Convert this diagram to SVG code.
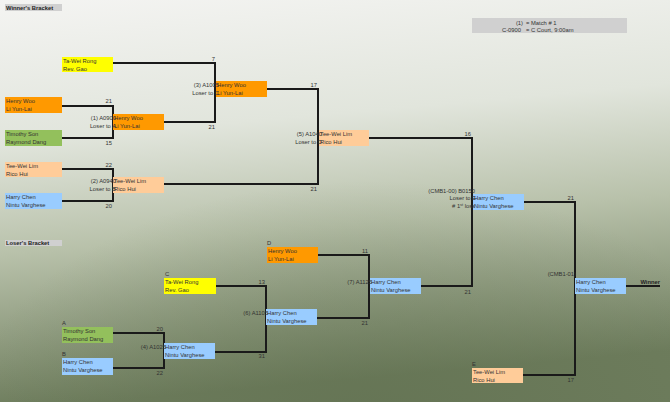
<svg xmlns="http://www.w3.org/2000/svg" width="670" height="402" viewBox="0 0 670 402">
<defs>
<linearGradient id="bg" x1="0" y1="0" x2="0.15" y2="1">
<stop offset="0" stop-color="#f4f4f2"/>
<stop offset="0.35" stop-color="#e1e5dc"/>
<stop offset="0.62" stop-color="#b8c1aa"/>
<stop offset="1" stop-color="#6e7d5d"/>
</linearGradient>
<radialGradient id="shade" cx="0.55" cy="1.05" r="0.6">
<stop offset="0" stop-color="#5e6e4e" stop-opacity="0.55"/>
<stop offset="1" stop-color="#5e6e4e" stop-opacity="0"/>
</radialGradient>
</defs>
<style>
text{font-family:"Liberation Sans",Arial,sans-serif;font-size:5.8px;fill:#333}
.b{font-weight:bold;fill:#222}
.e{text-anchor:end}
.hdr{fill:#d0d0d0}
.yel{fill:#ffff00}.org{fill:#ff9900}.grn{fill:#93c05c}.pch{fill:#ffcc99}.blu{fill:#99ccff}
.c path{fill:none;stroke:#1a1a1a;stroke-width:2}
</style>
<rect width="670" height="402" fill="url(#bg)"/>
<rect width="670" height="402" fill="url(#shade)"/>

<g id="winners-header"><rect class="hdr" x="5" y="4" width="57" height="7"/><text class="b" x="6" y="9.5">Winner's Bracket</text></g>
<g id="losers-header"><rect class="hdr" x="5" y="240" width="57" height="6"/><text class="b" x="6" y="245.2">Loser's Bracket</text></g>
<g id="legend"><rect class="hdr" x="472" y="18" width="155" height="15"/><text class="e" x="523" y="24.5">(1)</text><text x="526" y="24.5">= Match # 1</text><text class="e" x="521" y="31.5">C-0900</text><text x="526" y="31.5">= C Court, 9:00am</text></g>

<g class="c" id="connectors">
<path d="M62,106H113V138H62"/>
<path d="M113,63H215V122H164"/>
<path d="M62,169H113V201H62"/>
<path d="M267,89H318V184H164"/>
<path d="M369,138H472V286H421"/>
<path d="M524,202H575V375H523"/>
<path d="M626,286H660"/>
<path d="M113,333H164V368H113"/>
<path d="M216,286H266V352H215"/>
<path d="M318,255H369V318H317"/>
</g>

<g id="scores">
<text class="e" x="112" y="103">21</text><text class="e" x="112" y="145">15</text>
<text class="e" x="215" y="61">7</text><text class="e" x="215" y="129">21</text>
<text class="e" x="112" y="167">22</text><text class="e" x="112" y="208">20</text>
<text class="e" x="317" y="87">17</text><text class="e" x="317" y="191">21</text>
<text class="e" x="471" y="136">16</text><text class="e" x="471" y="294">21</text>
<text class="e" x="574" y="200">21</text><text class="e" x="574" y="382">17</text>
<text class="b e" x="660" y="284">Winner</text>
<text class="e" x="163" y="331">20</text><text class="e" x="163" y="375">22</text>
<text class="e" x="265" y="284">13</text><text class="e" x="265" y="358">31</text>
<text class="e" x="368" y="253">11</text><text class="e" x="368" y="325">21</text>
</g>

<g id="w1"><rect class="yel" x="62" y="57" width="51" height="15"/><text x="63" y="63">Ta-Wei Rong</text><text x="63" y="70.5">Rev. Gao</text></g>
<g id="w2"><rect class="org" x="5" y="97" width="57" height="16"/><text x="6" y="103">Henry Woo</text><text x="6" y="111">Li Yun-Lai</text></g>
<g id="w3"><rect class="grn" x="5" y="130" width="57" height="16"/><text x="6" y="136">Timothy Son</text><text x="6" y="144">Raymond Dang</text></g>
<g id="w4"><rect class="pch" x="5" y="162" width="57" height="15"/><text x="6" y="168">Tee-Wei Lim</text><text x="6" y="175.5">Rico Hui</text></g>
<g id="w5"><rect class="blu" x="5" y="193" width="57" height="16"/><text x="6" y="199">Harry Chen</text><text x="6" y="207">Nintu Varghese</text></g>

<g id="m1"><rect class="org" x="113" y="114" width="51" height="16"/><text x="114" y="120">Henry Woo</text><text x="114" y="128">Li Yun-Lai</text><text class="e" x="116" y="120">(1) A0900</text><text class="e" x="116" y="128">Loser to A</text></g>
<g id="m2"><rect class="pch" x="113" y="177" width="51" height="16"/><text x="114" y="183">Tee-Wei Lim</text><text x="114" y="191">Rico Hui</text><text class="e" x="116" y="183">(2) A0940</text><text class="e" x="116" y="191">Loser to B</text></g>
<g id="m3"><rect class="org" x="216" y="81" width="51" height="16"/><text x="217" y="87">Henry Woo</text><text x="217" y="95">Li Yun-Lai</text><text class="e" x="219" y="87">(3) A1005</text><text class="e" x="219" y="95">Loser to C</text></g>
<g id="m5"><rect class="pch" x="319" y="130" width="50" height="16"/><text x="320" y="136">Tee-Wei Lim</text><text x="320" y="144">Rico Hui</text><text class="e" x="322" y="136">(5) A1040</text><text class="e" x="322" y="144">Loser to D</text></g>
<g id="cmb0"><rect class="blu" x="473" y="194" width="51" height="16"/><text x="474" y="200">Harry Chen</text><text x="474" y="207.5">Nintu Varghese</text><text class="e" x="475" y="192.5">(CMB1-00) B0150</text><text class="e" x="476" y="200">Loser to E</text><text class="e" x="475" y="207.5"># 1<tspan font-size="3.8" dy="-1.8">st</tspan><tspan dy="1.8"> loss</tspan></text></g>
<g id="cmb1"><rect class="blu" x="575" y="278" width="51" height="16"/><text x="576" y="284">Harry Chen</text><text x="576" y="292">Nintu Varghese</text><text class="e" x="576" y="276">(CMB1-01)</text></g>

<g id="lC"><text x="165" y="276">C</text><rect class="yel" x="164" y="278" width="52" height="16"/><text x="165" y="284">Ta-Wei Rong</text><text x="165" y="292">Rev. Gao</text></g>
<g id="lA"><text x="62" y="325">A</text><rect class="grn" x="62" y="327" width="51" height="16"/><text x="63" y="333">Timothy Son</text><text x="63" y="341">Raymond Dang</text></g>
<g id="lB"><text x="62" y="356">B</text><rect class="blu" x="62" y="358" width="51" height="17"/><text x="63" y="364">Harry Chen</text><text x="63" y="372">Nintu Varghese</text></g>
<g id="m4"><rect class="blu" x="164" y="343" width="51" height="16"/><text x="165" y="349">Harry Chen</text><text x="165" y="357">Nintu Varghese</text><text class="e" x="166" y="349">(4) A1025</text></g>
<g id="m6"><rect class="blu" x="266" y="309" width="51" height="16"/><text x="267" y="315">Harry Chen</text><text x="267" y="323">Nintu Varghese</text><text class="e" x="268" y="315">(6) A1105</text></g>
<g id="lD"><text x="267" y="245">D</text><rect class="org" x="267" y="247" width="51" height="16"/><text x="268" y="253">Henry Woo</text><text x="268" y="261">Li Yun-Lai</text></g>
<g id="m7"><rect class="blu" x="370" y="278" width="51" height="16"/><text x="371" y="284">Harry Chen</text><text x="371" y="292">Nintu Varghese</text><text class="e" x="372" y="284">(7) A1125</text></g>
<g id="lE"><text x="472" y="366">E</text><rect class="pch" x="472" y="368" width="51" height="15"/><text x="473" y="374">Tee-Wei Lim</text><text x="473" y="381.5">Rico Hui</text></g>
</svg>
